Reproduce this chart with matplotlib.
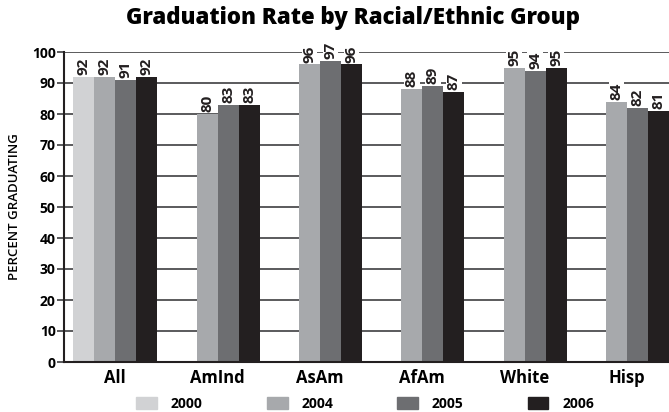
"""
    graduation rate by racial/ethnic group, grouped bar chart
"""

import numpy as np
import matplotlib.pyplot as plt

plt.rcParams['font.family'] = ['Open Sans', 'DejaVu Sans']

groups = ['All', 'AmInd', 'AsAm', 'AfAm', 'White', 'Hisp']
years = ['2000', '2004', '2005', '2006']
# None = no value reported for that year
rates = {
    '2000': [92, None, None, None, None, None],
    '2004': [92, 80, 96, 88, 95, 84],
    '2005': [91, 83, 97, 89, 94, 82],
    '2006': [92, 83, 96, 87, 95, 81],
}
colors = ['#d1d2d4', '#a7a9ac', '#6d6e71', '#231f20']

fig = plt.figure(figsize=(6.69, 4.12), dpi=100)
ax = fig.add_axes([64/669, 1 - 362/412, 605/669, 310/412])

x = np.arange(len(groups))
w = 0.205
for j, (yr, col) in enumerate(zip(years, colors)):
    xs = x + (j - 1.5) * w
    for xi, v in zip(xs, rates[yr]):
        if v is None:
            continue
        ax.bar(xi, v, width=w, color=col, zorder=2)
        ax.text(xi, v + 0.6, str(v), rotation=90, ha='center', va='bottom',
                fontsize=11, fontweight='bold', color='#231f20', zorder=4,
                bbox=dict(facecolor='white', edgecolor='none', pad=0.5))

ax.set_xlim(-0.5, 5.41)
ax.set_ylim(0, 100)
ax.set_yticks(range(0, 101, 10))
ax.yaxis.grid(True, color='#4d4d4f', linewidth=1.3, zorder=0)
ax.set_axisbelow(True)
ax.set_xticks(x)
ax.set_xticklabels(groups, fontsize=12, fontweight='bold')
ax.set_yticklabels([str(t) for t in range(0, 101, 10)], fontsize=10,
                   fontweight='bold')
ax.tick_params(axis='x', length=0, pad=5)
ax.tick_params(axis='y', length=5, width=1.3, color='#4d4d4f', pad=1)
for s in ['top', 'right']:
    ax.spines[s].set_visible(False)
ax.spines['left'].set_linewidth(1.5)
ax.spines['bottom'].set_linewidth(1.5)
ax.spines['left'].set_color('#231f20')
ax.spines['bottom'].set_color('#231f20')

ax.set_ylabel('PERCENT GRADUATING', fontsize=9.5, fontweight='semibold',
              labelpad=8)

fig.text(353/669, 1 - 18/412, 'Graduation Rate by Racial/Ethnic Group',
         ha='center', va='center', fontsize=16, fontweight='extra bold')

handles = [plt.Rectangle((0, 0), 1, 1, color=c) for c in colors]
leg = fig.legend(handles, years, loc='center', ncol=4,
                 bbox_to_anchor=(0.546, 1 - 404/412), frameon=False,
                 prop=dict(size=10, weight='bold'),
                 handlelength=1.5, handleheight=0.9, handletextpad=1.0,
                 columnspacing=4.6, borderpad=0)

plt.savefig('out.png', dpi=100)
